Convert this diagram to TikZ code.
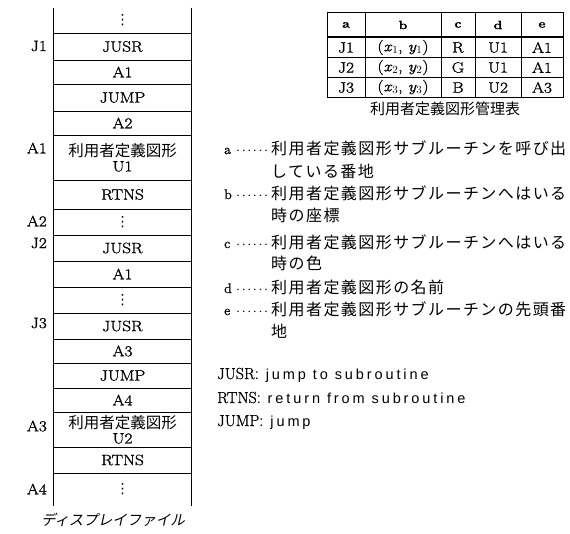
\documentclass[tikz,border=0pt]{standalone}
\usepackage{fontspec}
\setmainfont{Latin Modern Roman}[FakeStretch=1.15,FakeBold=1.3]
\newfontfamily\plainrm{Latin Modern Roman}[FakeBold=1]
\newfontfamily\dotsfont{DejaVu Sans}
\newfontfamily\jp{Noto Sans CJK JP}
\newfontfamily\jpl[LetterSpace=9]{Noto Sans CJK JP}
\newfontfamily\jpit[FakeSlant=0.22]{Noto Sans CJK JP}
\newfontfamily\engsans[LetterSpace=20]{Liberation Sans}
\newcommand\legkey[1]{\hbox to 47pt{#1\hskip2.5pt\leaders\hbox to 5.6pt{\hss$\cdot$\hss}\hfil\hskip1pt}}
\newcommand\pxy[1]{(\textit{x}$_{#1}$,\ \textit{y}$_{#1}$)}
\newcommand\vd{{\dotsfont\fontsize{14}{14}\selectfont ⋮}}
\begin{document}
\begin{tikzpicture}[x=1pt,y=-1pt,
  rowbox/.style={minimum width=137pt,inner sep=0pt},
  celltext/.style={inner sep=0pt,align=center,font=\fontsize{15}{17}\selectfont},
  addr/.style={anchor=east,inner sep=0pt,font=\fontsize{15}{17}\selectfont},
  tcell/.style={inner sep=0pt,font=\fontsize{15}{17}\selectfont},
  thead/.style={inner sep=0pt,font=\fontsize{12}{14}\selectfont\bfseries},
  leg/.style={anchor=base west,inner sep=0pt,font=\fontsize{14}{16}\selectfont\plainrm},
  jpleg/.style={anchor=base west,inner sep=0pt,font=\fontsize{16}{18}\selectfont\jpl},
  line/.style={line width=0.8pt}]
\useasboundingbox (0,0) rectangle (570,533);
% display file column
\foreach \n/\t/\b/\txt in {
  1/8/33/{\vd}, 2/33/60/JUSR, 3/60/84/A1, 4/84/111/JUMP, 5/111/135/A2,
  6/135/180/{{\fontsize{15.5}{17}\selectfont\jp 利用者定義図形}\\[-2pt]U1}, 7/180/209/RTNS, 8/209/235/{\vd},
  9/235/261/JUSR, 10/261/287/A1, 11/287/313/{\vd}, 12/313/339/JUSR,
  13/339/363/A3, 14/363/388/JUMP, 15/388/412/A4,
  16/412/447/{{\fontsize{15.5}{17}\selectfont\jp 利用者定義図形}\\[-2pt]U2}, 17/447/473/RTNS, 18/473/506/{\vd}}
{
  \node[rowbox,minimum height={(\b-\t)*1pt}] (r\n) at (122.5,{(\t+\b)/2}) {};
  \node[celltext] (c\n) at (r\n.center) {\txt};
}
\foreach \n in {1,...,17}
  \draw[line] (r\n.south west) -- (r\n.south east);
\draw[line] (r1.north west) -- (r18.south west);
\draw[line] (r1.north east) -- (r18.south east);
% address labels
\node[addr] (lJ1) at (47,46) {J1};
\node[addr] (lA1) at (47,148) {A1};
\node[addr] (lA2) at (47,221) {A2};
\node[addr] (lJ2) at (47,243) {J2};
\node[addr] (lJ3) at (47,323) {J3};
\node[addr] (lA3) at (47,426) {A3};
\node[addr] (lA4) at (47,489) {A4};
\node[font=\fontsize{14.5}{16}\selectfont\jpit,inner sep=0pt] (cap1) at (113,520) {ディスプレイファイル};
% table
\draw[line] (327,12) rectangle (563,97);
\foreach \x in {365,441,475,521} \draw[line] (\x,12) -- (\x,97);
\draw[line] (327,57) -- (563,57);
\draw[line] (327,77) -- (563,77);
\draw[line width=2.2pt] (327,37) -- (563,37);
\node[thead] (ha) at (346,25) {a};
\node[thead] (hb) at (403,25) {b};
\node[thead] (hc) at (458,25) {c};
\node[thead] (hd) at (498,25) {d};
\node[thead] (he) at (542,25) {e};
\node[tcell] (t1a) at (346,47.5) {J1};
\node[tcell] (t1b) at (403,47.5) {\pxy{1}};
\node[tcell] (t1c) at (458,47.5) {R};
\node[tcell] (t1d) at (498,47.5) {U1};
\node[tcell] (t1e) at (542,47.5) {A1};
\node[tcell] (t2a) at (346,67.5) {J2};
\node[tcell] (t2b) at (403,67.5) {\pxy{2}};
\node[tcell] (t2c) at (458,67.5) {G};
\node[tcell] (t2d) at (498,67.5) {U1};
\node[tcell] (t2e) at (542,67.5) {A1};
\node[tcell] (t3a) at (346,87.5) {J3};
\node[tcell] (t3b) at (403,87.5) {\pxy{3}};
\node[tcell] (t3c) at (458,87.5) {B};
\node[tcell] (t3d) at (498,87.5) {U2};
\node[tcell] (t3e) at (542,87.5) {A3};
\node[inner sep=0pt,font=\fontsize{15}{17}\selectfont\jp] (tcap) at (445,109) {利用者定義図形管理表};
% legend
\node[leg] (la) at (224,154) {\legkey{a}{\fontsize{16}{18}\selectfont\jpl 利用者定義図形サブルーチンを呼び出}};
\node[jpleg] (la2) at (271,177) {している番地};
\node[leg] (lb) at (224,199) {\legkey{b}{\fontsize{16}{18}\selectfont\jpl 利用者定義図形サブルーチンへはいる}};
\node[jpleg] (lb2) at (271,221) {時の座標};
\node[leg] (lc) at (224,248) {\legkey{c}{\fontsize{16}{18}\selectfont\jpl 利用者定義図形サブルーチンへはいる}};
\node[jpleg] (lc2) at (271,269) {時の色};
\node[leg] (ld) at (224,293) {\legkey{d}{\fontsize{16}{18}\selectfont\jpl 利用者定義図形の名前}};
\node[leg] (le) at (224,315) {\legkey{e}{\fontsize{16}{18}\selectfont\jpl 利用者定義図形サブルーチンの先頭番}};
\node[jpleg] (le2) at (271,337) {地};
\node[leg,font=\fontsize{16}{18}\selectfont\plainrm] (k1) at (217,379) {JUSR{\engsans\fontsize{14.5}{16}\selectfont: jump to subroutine}};
\node[leg,font=\fontsize{16}{18}\selectfont\plainrm] (k2) at (217,403) {RTNS{\engsans\fontsize{14.5}{16}\selectfont: return from subroutine}};
\node[leg,font=\fontsize{16}{18}\selectfont\plainrm] (k3) at (217,426) {JUMP{\engsans\fontsize{14.5}{16}\selectfont: jump}};
\end{tikzpicture}
\end{document}
